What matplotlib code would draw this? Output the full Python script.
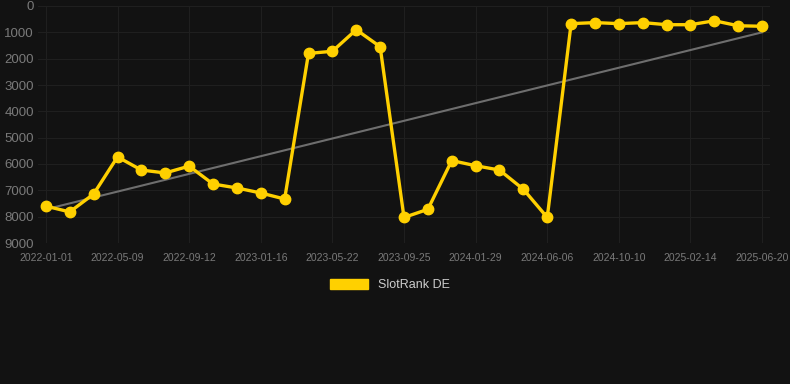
import numpy as np
import matplotlib.pyplot as plt
from matplotlib.patches import Patch

# rank values, one point per sample (31 samples)
ranks = [7600, 7820, 7140, 5730, 6230, 6340, 6080, 6760, 6910, 7100, 7330,
         1800, 1720, 900, 1545, 8030, 7720, 5870, 6065, 6230, 6960, 8030,
         670, 630, 670, 630, 710, 710, 560, 750, 770]
tick_labels = ['2022-01-01', '2022-05-09', '2022-09-12', '2023-01-16', '2023-05-22',
               '2023-09-25', '2024-01-29', '2024-06-06', '2024-10-10', '2025-02-14',
               '2025-06-20']
trend_ends = [7720, 1000]
series_name = 'SlotRank DE'

BG = '#121212'
YELLOW = '#FFD000'
plt.rcParams['font.family'] = ['Liberation Sans', 'DejaVu Sans']

fig = plt.figure(figsize=(7.9, 3.84), dpi=100, facecolor=BG)
ax = fig.add_axes([38 / 790, 1 - 243 / 384, 732 / 790, 237 / 384])
ax.set_facecolor(BG)

x = np.arange(len(ranks))
ax.plot([x[0], x[-1]], trend_ends, color='#6e6e6e', lw=1.5, zorder=2)
ax.plot(x, ranks, color=YELLOW, lw=2.4, marker='o', ms=7.5, zorder=3)

ax.set_xlim(-0.33, len(ranks) - 1 + 0.33)
ax.set_ylim(9000, 0)
ax.set_yticks(range(0, 9001, 1000))
ax.set_xticks(x[::3])
ax.set_xticklabels(tick_labels)
ax.tick_params(axis='x', colors='#7a7a7a', labelsize=7.5, length=0, pad=7)
ax.tick_params(axis='y', colors='#7a7a7a', labelsize=9.5, length=0, pad=3)
ax.grid(True, color='#1f1f1f', lw=0.8)
for s in ax.spines.values():
    s.set_visible(False)

leg = fig.legend(handles=[Patch(facecolor=YELLOW, edgecolor=YELLOW)], labels=[series_name],
                 loc='center', bbox_to_anchor=(390 / 790, 1 - 285 / 384), frameon=False,
                 handlelength=3.0, handleheight=0.9, fontsize=9, labelcolor='#cccccc')

fig.savefig('out.png', dpi=100, facecolor=BG)
